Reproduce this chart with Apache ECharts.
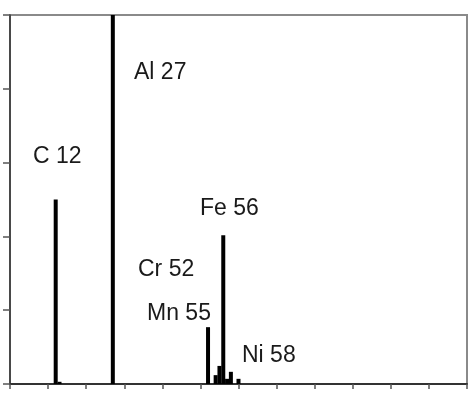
<!DOCTYPE html>
<html>
<head>
<meta charset="utf-8">
<script src="https://cdn.jsdelivr.net/npm/echarts@6/dist/echarts.min.js"></script>
<style>
html,body{margin:0;padding:0;background:#fff;}
#chart{width:469px;height:399px;}
</style>
</head>
<body>
<div id="chart"></div>
<script>
// mass numbers (x) and relative intensities (y)
const masses = [12, 13, 27, 52, 54, 55, 56, 57, 58, 60];
const intensities = [50, 0.6, 100, 15.4, 2.4, 4.9, 40.3, 1.4, 3.3, 1.4];
const peakLabels = ["C 12", "Al 27", "Cr 52", "Mn 55", "Fe 56", "Ni 58"];
const xTicks = [0, 10, 20, 30, 40, 50, 60, 70, 80, 90, 100, 110, 120];
const yTicks = [0, 20, 40, 60, 80, 100];

const chart = echarts.init(document.getElementById('chart'), null, {renderer: 'canvas'});

const labelPos = {
  "C 12": [33, 157],
  "Al 27": [134, 73],
  "Cr 52": [138, 269.5],
  "Mn 55": [147, 314],
  "Fe 56": [200, 208.5],
  "Ni 58": [242, 356]
};

chart.setOption({
  animation: false,
  grid: {left: 10, right: 2, top: 15, bottom: 15, show: true, borderColor: '#8a8a8a', borderWidth: 2, backgroundColor: '#fff'},
  xAxis: {
    type: 'value', min: xTicks[0], max: xTicks[xTicks.length - 1], interval: 10,
    axisLine: {onZero: false, lineStyle: {color: '#333', width: 2}},
    axisTick: {show: true, length: 5, lineStyle: {color: '#555', width: 1.5}},
    axisLabel: {show: false},
    splitLine: {show: false}
  },
  yAxis: {
    type: 'value', min: yTicks[0], max: yTicks[yTicks.length - 1], interval: 20,
    axisLine: {show: true, lineStyle: {color: '#333', width: 1.5}},
    axisTick: {show: true, length: 7, lineStyle: {color: '#555', width: 1.5}},
    axisLabel: {show: false},
    splitLine: {show: false}
  },
  series: [{
    type: 'bar',
    barWidth: 4,
    itemStyle: {color: '#000'},
    data: masses.map((m, i) => [m, intensities[i]])
  }],
  graphic: peakLabels.map(t => ({
    type: 'text',
    x: labelPos[t][0], y: labelPos[t][1],
    style: {text: t, font: '23px "Liberation Sans", Arial, sans-serif', fill: '#1a1a1a', textVerticalAlign: 'middle'}
  }))
});
</script>
</body>
</html>
